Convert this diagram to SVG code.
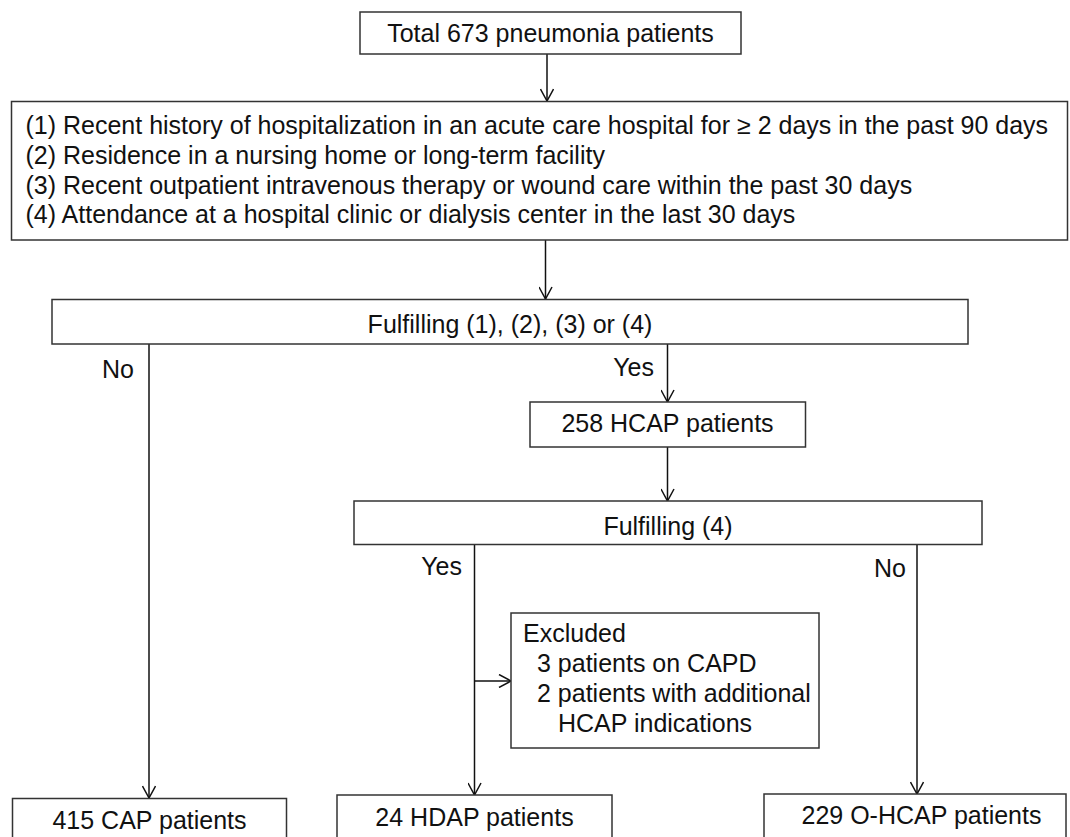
<svg xmlns="http://www.w3.org/2000/svg" width="1070" height="837" viewBox="0 0 1070 837">
<style>
.box{fill:#fff;stroke:#333;stroke-width:1.5}
.t{font-family:"Liberation Sans",Arial,sans-serif;font-size:25px;fill:#111}
.c{text-anchor:middle}
.e{text-anchor:end}
.ln{stroke:#111;stroke-width:1.5;fill:none}
</style>
<defs>
<marker id="ah" viewBox="-13 -7 14 14" refX="0" refY="0" markerWidth="14" markerHeight="14" markerUnits="userSpaceOnUse" orient="auto">
<path d="M-12,-6.5 L0,0 L-12,6.5" fill="none" stroke="#111" stroke-width="1.5"/>
</marker>
</defs>
<rect width="1070" height="837" fill="#fff"/>
<g id="connectors">
<line class="ln" x1="547" y1="54" x2="547" y2="101" marker-end="url(#ah)"/>
<line class="ln" x1="545.5" y1="240" x2="545.5" y2="299" marker-end="url(#ah)"/>
<line class="ln" x1="149" y1="344" x2="149" y2="798" marker-end="url(#ah)"/>
<line class="ln" x1="667.5" y1="344" x2="667.5" y2="402" marker-end="url(#ah)"/>
<line class="ln" x1="667.5" y1="447" x2="667.5" y2="501" marker-end="url(#ah)"/>
<line class="ln" x1="474.5" y1="544" x2="474.5" y2="795" marker-end="url(#ah)"/>
<line class="ln" x1="474.5" y1="681" x2="511" y2="681" marker-end="url(#ah)"/>
<line class="ln" x1="917" y1="544" x2="917" y2="794" marker-end="url(#ah)"/>
<text class="t e" x="134" y="378">No</text>
<text class="t e" x="654" y="376">Yes</text>
<text class="t e" x="462" y="575">Yes</text>
<text class="t e" x="906" y="577">No</text>
</g>
<g id="total">
<rect class="box" x="360" y="12" width="381" height="42"/>
<text class="t c" x="550.5" y="42">Total 673 pneumonia patients</text>
</g>
<g id="criteria">
<rect class="box" x="11.5" y="101.5" width="1056" height="138.5"/>
<text class="t" x="25.5" y="134">(1) Recent history of hospitalization in an acute care hospital for ≥ 2 days in the past 90 days</text>
<text class="t" x="25.5" y="163.5">(2) Residence in a nursing home or long-term facility</text>
<text class="t" x="25.5" y="193.5">(3) Recent outpatient intravenous therapy or wound care within the past 30 days</text>
<text class="t" x="25.5" y="223">(4) Attendance at a hospital clinic or dialysis center in the last 30 days</text>
</g>
<g id="fulfilling1234">
<rect class="box" x="52" y="299.5" width="916" height="44.5"/>
<text class="t c" x="510" y="333">Fulfilling (1), (2), (3) or (4)</text>
</g>
<g id="hcap258">
<rect class="box" x="530" y="402" width="275.5" height="45"/>
<text class="t c" x="667.5" y="431.5">258 HCAP patients</text>
</g>
<g id="fulfilling4">
<rect class="box" x="354" y="501" width="628" height="43.5"/>
<text class="t c" x="668" y="535">Fulfilling (4)</text>
</g>
<g id="excluded">
<rect class="box" x="511" y="613" width="308" height="135"/>
<text class="t" x="523" y="642">Excluded</text>
<text class="t" x="537" y="672">3 patients on CAPD</text>
<text class="t" x="537" y="702">2 patients with additional</text>
<text class="t" x="558" y="732">HCAP indications</text>
</g>
<g id="cap415">
<rect class="box" x="12.5" y="798.5" width="274" height="50"/>
<text class="t c" x="149.5" y="829">415 CAP patients</text>
</g>
<g id="hdap24">
<rect class="box" x="337" y="795" width="275" height="50"/>
<text class="t c" x="474.5" y="826">24 HDAP patients</text>
</g>
<g id="ohcap229">
<rect class="box" x="764" y="794" width="302" height="50"/>
<text class="t c" x="921.5" y="824">229 O-HCAP patients</text>
</g>
</svg>
